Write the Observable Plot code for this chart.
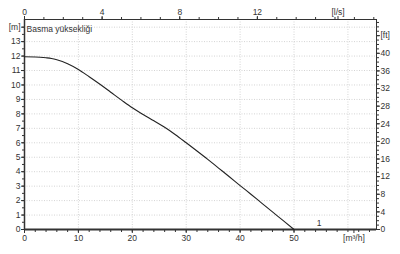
<!DOCTYPE html>
<html><head><meta charset="utf-8">
<script src="https://cdn.jsdelivr.net/npm/d3@7"></script>
<script src="https://cdn.jsdelivr.net/npm/@observablehq/plot@0.6"></script>
<style>
html,body{margin:0;padding:0;background:#fff;}
svg{font-family:"Liberation Sans",Arial,sans-serif;}
</style>
</head><body><div id="chart"></div>
<script>
// Pump curve: flow Q [m³/h] vs head H [m]
const flow = [0, 2, 4, 5, 6, 8, 10, 12, 14, 16, 18, 20, 22, 24, 26, 28, 30, 32, 34, 36, 38, 40, 42, 44, 46, 48, 50];
const head = [11.95, 11.94, 11.88, 11.83, 11.74, 11.47, 11.07, 10.57, 10.05, 9.5, 8.95, 8.42, 7.96, 7.52, 7.07, 6.56, 6.0, 5.43, 4.85, 4.25, 3.65, 3.04, 2.44, 1.83, 1.22, 0.61, 0];
const curveName = "1";
const title = "Basma yüksekliği";

// axis ticks
const xTicks = [0, 10, 20, 30, 40, 50];          // m³/h
const xUnitTick = [60];
const xMinor = d3.range(0, 66, 2);
const yTicks = d3.range(0, 14, 1);                // m
const yUnitTick = [14];
const yMinor = d3.range(0, 14.5, 0.5);
const lsTicks = [0, 4, 8, 12];                    // l/s
const lsUnitTick = [16];
const lsMinor = d3.range(0, 19, 1);
const ftTicks = [0, 4, 8, 12, 16, 20, 24, 28, 32, 36, 40]; // ft
const ftUnitTick = [44];
const ftMinor = d3.range(0, 48, 1);
const xGrid = [10, 20, 30, 40, 50, 60];
const yGrid = d3.range(1, 15, 1);

const LS = 3.6;      // 1 l/s = 3.6 m³/h
const FT = 0.3048;   // 1 ft = 0.3048 m

const data = flow.map((q, i) => ({q, h: head[i]}));
const ink = "#333";

const chart = Plot.plot({
  width: 400,
  height: 254,
  marginLeft: 24,
  marginRight: 24,
  marginTop: 19,
  marginBottom: 25,
  x: {domain: [0, 65.3]},
  y: {domain: [0, 14.53]},
  style: {fontFamily: "'Liberation Sans', Arial, sans-serif", fontSize: "8.5px", color: ink, background: "#fff"},
  marks: [
    Plot.gridX(xGrid, {stroke: "#d4d4d4", strokeOpacity: 1, strokeDasharray: "1,1.5"}),
    Plot.gridY(yGrid, {stroke: "#d4d4d4", strokeOpacity: 1, strokeDasharray: "1,1.5"}),
    Plot.frame({stroke: ink}),
    Plot.ruleY([0], {stroke: ink, strokeWidth: 2}),
    Plot.ruleX([0], {stroke: ink, strokeWidth: 1.5}),
    // bottom axis m³/h
    Plot.axisX(xTicks, {anchor: "bottom", tickSize: 4, tickPadding: 1, label: null}),
    Plot.axisX(xMinor, {anchor: "bottom", tickSize: 3, tickFormat: () => "", label: null}),
    Plot.axisX(xUnitTick, {anchor: "bottom", tickSize: 4, tickPadding: 1, tickFormat: () => "[m³/h]", dx: 6, label: null}),
    // top axis l/s
    Plot.axisX(lsTicks.map(v => v * LS), {anchor: "top", tickSize: 4, tickPadding: 1, tickFormat: d => Math.round(d / LS), label: null}),
    Plot.axisX(lsMinor.map(v => v * LS), {anchor: "top", tickSize: 3, tickFormat: () => "", label: null}),
    Plot.axisX(lsUnitTick.map(v => v * LS), {anchor: "top", tickSize: 4, tickPadding: 1, tickFormat: () => "[l/s]", dx: 3, label: null}),
    // left axis m
    Plot.axisY(yTicks, {anchor: "left", tickSize: 3, tickPadding: 1, label: null}),
    Plot.axisY(yMinor, {anchor: "left", tickSize: 2, tickFormat: () => "", label: null}),
    Plot.axisY(yUnitTick, {anchor: "left", tickSize: 3, tickPadding: 1, tickFormat: () => "[m]", label: null}),
    // right axis ft
    Plot.axisY(ftTicks.map(v => v * FT), {anchor: "right", tickSize: 3, tickPadding: 1, tickFormat: d => Math.round(d / FT), label: null}),
    Plot.axisY(ftMinor.map(v => v * FT), {anchor: "right", tickSize: 2, tickFormat: () => "", label: null}),
    Plot.axisY(ftUnitTick.map(v => v * FT), {anchor: "right", tickSize: 3, tickPadding: 1, tickFormat: () => "[ft]", label: null}),
    // title inside frame
    Plot.text([title], {frameAnchor: "top-left", dx: 2, dy: 6, textAnchor: "start", fill: ink, fontSize: 8.5}),
    // curve
    Plot.line(data, {x: "q", y: "h", stroke: "#222", strokeWidth: 1.1, curve: "monotone-x"}),
    Plot.text(data, Plot.selectLast({x: "q", y: "h", text: () => curveName, dx: 25, dy: -6, fill: ink, fontSize: 8.5}))
  ]
});
document.getElementById("chart").appendChild(chart);
</script>
</body></html>
